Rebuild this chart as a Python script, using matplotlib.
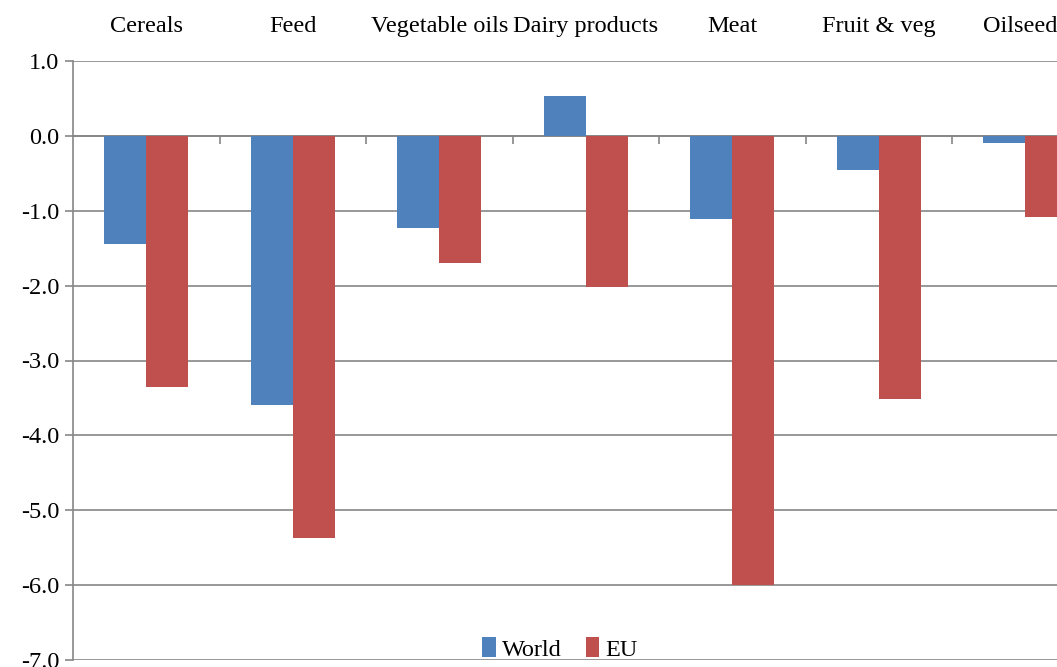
import numpy as np
import matplotlib.pyplot as plt

plt.rcParams['font.family'] = ['Liberation Serif', 'DejaVu Serif']
plt.rcParams['axes.unicode_minus'] = False

categories = ['Cereals', 'Feed', 'Vegetable oils', 'Dairy products', 'Meat', 'Fruit & veg', 'Oilseeds']
world = [-1.44, -3.60, -1.23, 0.53, -1.11, -0.46, -0.09]
eu = [-3.36, -5.37, -1.70, -2.02, -6.00, -3.52, -1.08]

fig = plt.figure(figsize=(10.57, 6.67), dpi=100)
# axes runs past the right edge, as in the reference (last category is clipped)
ax = fig.add_axes([73 / 1057, 7 / 667, (1098.5 - 73) / 1057, (660 - 61) / 667])

x = np.arange(len(categories))
w = 0.286
ax.bar(x - w / 2, world, w, color='#4F81BD', label='World', zorder=3)
ax.bar(x + w / 2, eu, w, color='#C0504D', label='EU', zorder=3)

ax.set_xlim(-0.5, len(categories) - 0.5)
ax.set_ylim(-7, 1)
ax.set_yticks(np.arange(-7, 1.01, 1))
ax.yaxis.set_major_formatter(plt.FormatStrFormatter('%.1f'))
ax.yaxis.grid(True, color='#868686', lw=1.2, zorder=0)

gray = '#868686'
for s in ['top', 'right']:
    ax.spines[s].set_visible(False)
ax.spines['left'].set_color(gray)
ax.spines['left'].set_linewidth(1.2)
ax.spines['bottom'].set_position(('data', 0))
ax.spines['bottom'].set_color(gray)
ax.spines['bottom'].set_linewidth(1.2)
ax.set_xticks(np.arange(0.5, len(categories), 1))
ax.set_xticklabels([])
ax.tick_params(axis='x', direction='out', length=6, color=gray, width=1.2)
ax.tick_params(axis='y', direction='out', length=6, color=gray, width=1.2, labelsize=17.5, pad=4)

top = ax.secondary_xaxis('top')
top.set_xticks(x)
top.set_xticklabels(categories, fontsize=17.5)
top.tick_params(length=0, pad=17)
top.spines['top'].set_visible(False)

fig.legend(loc='center', bbox_to_anchor=(560 / 1057, 1 - 649 / 667), ncol=2, frameon=False,
           fontsize=17.5, handlelength=0.55, handleheight=0.9, handletextpad=0.25, columnspacing=1.0)

fig.savefig('out.png', dpi=100)
